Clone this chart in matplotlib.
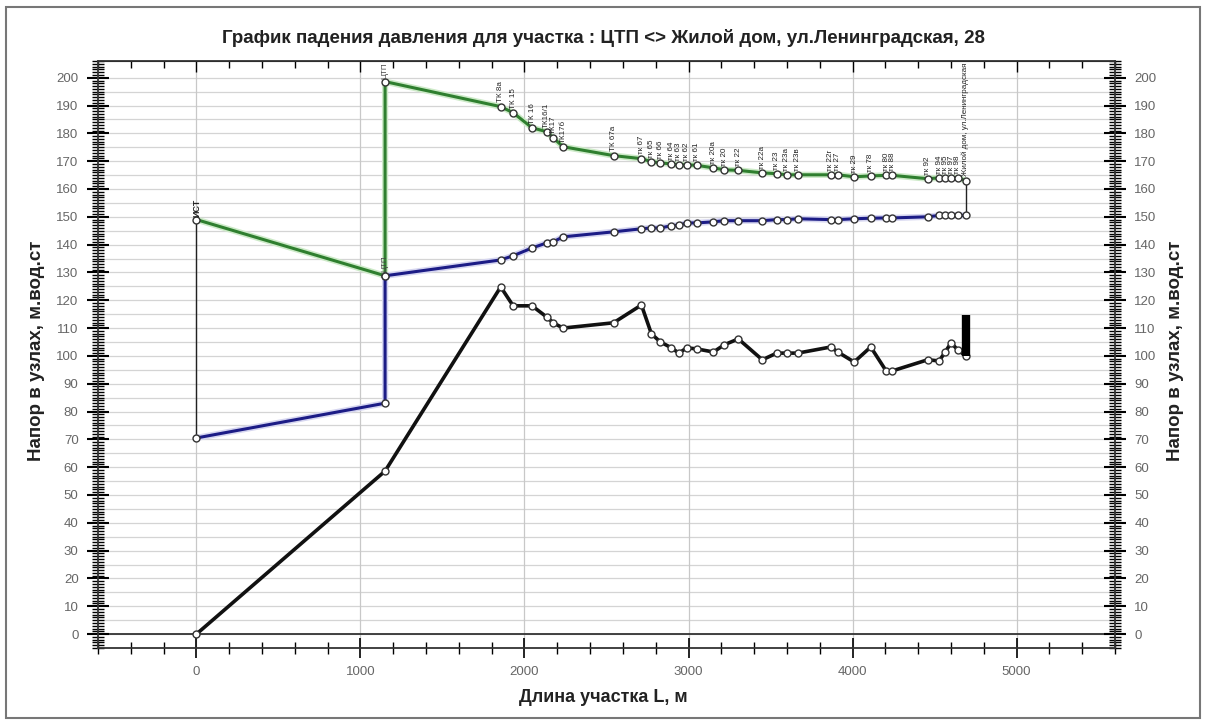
import matplotlib
matplotlib.use("Agg")
import matplotlib.pyplot as plt
from matplotlib.ticker import MultipleLocator, FuncFormatter
from matplotlib.patches import Rectangle

plt.rcParams.update({
    "font.family": ["Liberation Sans", "DejaVu Sans"],
    "font.size": 10,
})

# distance along the section, m (nodes after the ЦТП)
dist = [1855, 1931, 2046, 2135, 2175, 2235, 2543, 2713, 2774, 2829, 2896,
        2941, 2990, 3051, 3152, 3218, 3304, 3450, 3538, 3599, 3666, 3867,
        3910, 4010, 4111, 4205, 4242, 4458, 4528, 4565, 4601, 4641, 4690]

# start section: source -> ЦТП
start_x = [0, 1150]
supply_start = [149.0, 128.8]
return_start = [70.5, 83.0]
ground_start = [0.0, 58.6]
ctp_supply_out = 198.6
ctp_return_in = 128.8

supply = [189.6, 187.4, 182.0, 180.6, 178.4, 175.2, 172.0, 170.9, 169.8, 169.4,
          169.0, 168.7, 168.7, 168.5, 167.6, 166.9, 166.7, 165.8, 165.5, 165.1,
          165.1, 165.1, 165.1, 164.4, 164.7, 164.9, 164.9, 163.7, 164.0, 164.0,
          164.0, 164.0, 163.0]
ret = [134.5, 136.0, 138.8, 140.6, 141.0, 142.8, 144.6, 145.7, 146.0, 146.0,
       146.8, 147.0, 147.8, 147.8, 148.2, 148.6, 148.6, 148.6, 149.0, 149.0,
       149.3, 149.0, 149.0, 149.3, 149.5, 149.6, 149.6, 150.0, 150.5, 150.5,
       150.5, 150.5, 150.5]
ground = [124.8, 118.0, 118.0, 114.0, 111.9, 110.0, 111.9, 118.3, 107.9, 105.0,
          102.9, 101.0, 102.9, 102.5, 101.4, 104.0, 106.1, 98.6, 101.0, 101.0,
          101.0, 103.2, 101.4, 97.8, 103.2, 94.6, 94.6, 98.6, 98.2, 101.4,
          104.7, 102.2, 100.0]
building_top = 114.7

node_names = ["ТК 8а", "ТК 15", "ТК 16", "ТК16/1", "ТК17", "ТК17б", "ТК 67а",
              "тк 67", "тк 65", "тк 66", "тк 64", "тк 63", "тк 62", "тк 61",
              "тк 20а", "тк 20", "тк 22", "тк 22а", "тк 23", "тк 23а", "тк 23в",
              "тк 22г", "тк 27", "тк 29", "тк 78", "тк 80", "тк 88", "тк 92",
              "тк 94", "тк 95", "тк 97", "тк 98", "Жилой дом, ул.Ленинградская"]
start_name = "ИСТ"

GREEN = "#2f7f2f"
BLUE = "#1c1c86"
MARK = dict(marker="o", markersize=5, markerfacecolor="white",
            markeredgecolor="#333333", markeredgewidth=1)

fig = plt.figure(figsize=(12.06, 7.24), dpi=100)
fig.patches.append(Rectangle((0.005, 0.008), 0.99, 0.982, transform=fig.transFigure,
                             fill=False, edgecolor="#777777", linewidth=1.5))
ax = fig.add_axes([0.0813, 0.105, 0.8432, 0.8107])

# grid
ax.set_xlim(-600, 5600)
ax.set_ylim(-5, 206)
for y in range(0, 205, 5):
    ax.axhline(y, color="#d4d4d4", linewidth=0.9, zorder=0)
for x in range(0, 6000, 1000):
    ax.axvline(x, color="#c8c8c8", linewidth=0.9, zorder=0)
ax.axhline(0, color="#333333", linewidth=1.3, zorder=1)

# connecting thin lines
ax.plot([0, 0], [return_start[0], supply_start[0]], color="#222222", lw=1, zorder=2)
ax.plot([dist[-1], dist[-1]], [ret[-1], supply[-1]], color="#222222", lw=1, zorder=2)

sx = start_x + [start_x[-1]] + dist
sy = supply_start + [ctp_supply_out] + supply
rx = start_x + [start_x[-1]] + dist
ry = return_start + [ctp_return_in] + ret
gx = start_x + dist
gy = ground_start + ground

ax.plot(sx, sy, color="#cdeac8", lw=4.5, zorder=2, solid_capstyle="round")
ax.plot(sx, sy, color=GREEN, lw=2.2, zorder=3, **MARK)
ax.plot(rx, ry, color="#d6d6f0", lw=4.5, zorder=2, solid_capstyle="round")
ax.plot(rx, ry, color=BLUE, lw=2.2, zorder=3, **MARK)
ax.plot(gx, gy, color="#111111", lw=2.6, zorder=3, **MARK)
ax.plot([dist[-1], dist[-1]], [ground[-1], building_top], color="black",
        lw=6, solid_capstyle="butt", zorder=4)

# node labels
for x, y, name in zip(dist, supply, node_names):
    ax.text(x, y + 1.5, name, rotation=90, fontsize=5.8, ha="center", va="bottom",
            color="#222222", clip_on=True, zorder=5)
ax.text(0, supply_start[0] + 1, start_name, rotation=90, fontsize=6.5,
        fontweight="bold", ha="center", va="bottom", color="#222222", zorder=5)
ax.text(start_x[1], ctp_return_in + 1.5, "ЦТП", rotation=90, fontsize=5.8,
        ha="center", va="bottom", color="#444444", zorder=5)
ax.text(start_x[1], ctp_supply_out + 1, "ЦТП", rotation=90, fontsize=5.8,
        ha="center", va="bottom", color="#444444", clip_on=True, zorder=5)

# ticks
ax.xaxis.set_major_locator(MultipleLocator(1000))
ax.xaxis.set_minor_locator(MultipleLocator(200))
ax.yaxis.set_major_locator(MultipleLocator(10))
ax.yaxis.set_minor_locator(MultipleLocator(1))
ax.tick_params(axis="x", which="major", direction="inout", length=14, width=1.2,
               labelsize=9.5, labelcolor="#666666", pad=6)
ax.tick_params(axis="x", which="minor", direction="inout", length=9, width=1)
ax.tick_params(axis="y", which="major", direction="inout", length=16, width=1.5,
               labelsize=9.5, labelcolor="#666666", left=True, right=True,
               labelleft=True, labelright=True, pad=6)
ax.tick_params(axis="y", which="minor", direction="inout", length=8, width=1,
               left=True, right=True)
ax.yaxis.set_major_formatter(FuncFormatter(lambda v, p: f"{v:.0f}" if v >= 0 else ""))

top = ax.secondary_xaxis("top")
top.xaxis.set_major_locator(MultipleLocator(1000))
top.xaxis.set_minor_locator(MultipleLocator(200))
top.tick_params(which="major", direction="in", length=8, width=1, labeltop=False)
top.tick_params(which="minor", direction="in", length=5, width=1)

for side in ["left", "right", "top", "bottom"]:
    ax.spines[side].set_linewidth(1.3)
    ax.spines[side].set_color("#333333")

fig.text(0.5, 0.947, "График падения давления для участка : ЦТП <> Жилой дом, ул.Ленинградская, 28",
         ha="center", va="center", fontsize=13.5, fontweight="bold", color="#222222")
fig.text(0.5, 0.037, "Длина участка L, м", ha="center", va="center",
         fontsize=13, fontweight="bold", color="#222222")
fig.text(0.03, 0.515, "Напор в узлах, м.вод.ст", ha="center", va="center",
         rotation=90, fontsize=13.5, fontweight="bold", color="#222222")
fig.text(0.975, 0.515, "Напор в узлах, м.вод.ст", ha="center", va="center",
         rotation=90, fontsize=13.5, fontweight="bold", color="#222222")

fig.savefig("out.png", dpi=100)
